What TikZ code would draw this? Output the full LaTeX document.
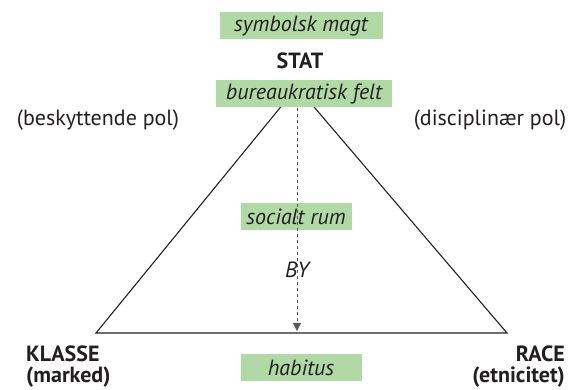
\documentclass[tikz,border=0pt]{standalone}
\usepackage{fontspec}
\setmainfont{PT Sans}
\usetikzlibrary{arrows.meta}
\definecolor{boxgreen}{HTML}{B0D9A5}
\definecolor{ink}{HTML}{231F20}
\begin{document}
\begin{tikzpicture}[x=1pt,y=-1pt,
  every node/.style={text=ink,font=\fontsize{22}{26}\selectfont,inner sep=0pt},
  gbox/.style={fill=boxgreen,minimum height=27,font=\fontsize{22}{26}\selectfont\itshape},
  vlabel/.style={font=\fontsize{22}{26}\selectfont\bfseries}]
\useasboundingbox (0,0) rectangle (571,390);
\coordinate (apex) at (297,87);
\coordinate (lv) at (96,333);
\coordinate (rv) at (507,333);
\draw[ink,line width=1.1] (apex) -- (lv) -- (rv) -- cycle;
\node[gbox,minimum width=163] (sym) at (301,26) {symbolsk magt};
\node[vlabel] (stat) at (300,61) {STAT};
\node[gbox,minimum width=176] (bur) at (304,94) {bureaukratisk felt};
\node[gbox,minimum width=111] (soc) at (296,217) {socialt rum};
\node[font=\fontsize{22}{26}\selectfont\itshape] (by) at (297,270) {BY};
\node[gbox,minimum width=121] (hab) at (301,368) {habitus};
\coordinate (arrend) at (297,331);
\draw[gray!70!black,dashed,line width=0.8,-{Triangle[width=8,length=8]}] (bur.south -| apex) -- (arrend);
\node (besk) at (98,120) {(beskyttende pol)};
\node (disc) at (490,120) {(disciplinær pol)};
\node[vlabel,anchor=west] (klasse) at (26,354) {KLASSE};
\node[vlabel,anchor=west] (marked) at (26,377) {(marked)};
\node[vlabel,anchor=east] (race) at (565,354) {RACE};
\node[vlabel,anchor=east] (etn) at (565,377) {(etnicitet)};
\end{tikzpicture}
\end{document}
